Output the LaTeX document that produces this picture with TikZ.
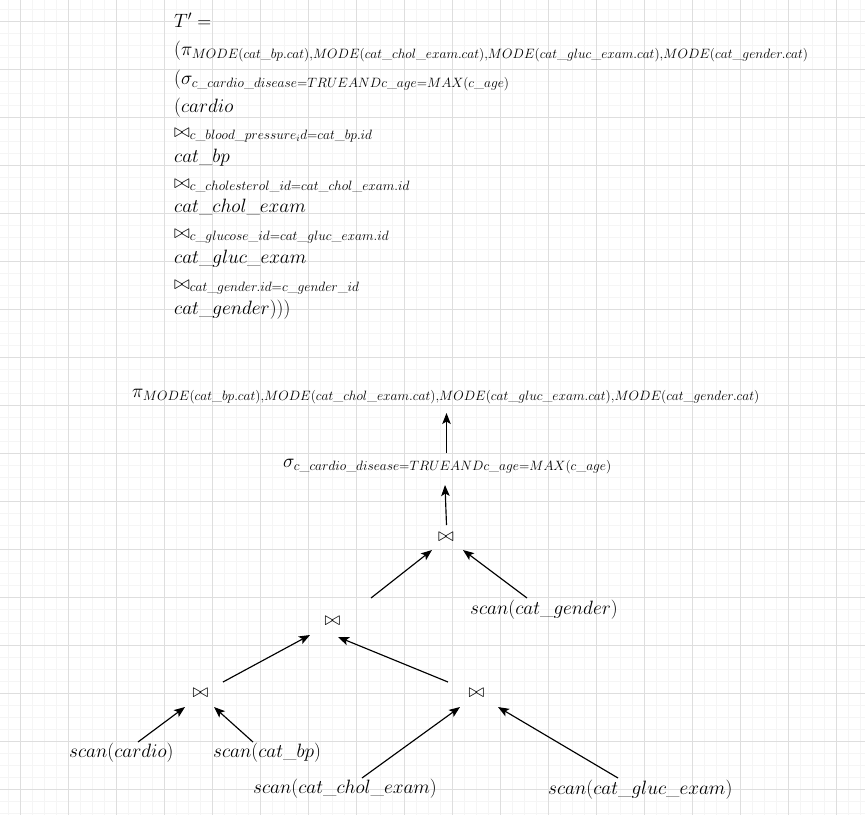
\documentclass[tikz,border=0pt]{standalone}
\usepackage{fix-cm}
\usepackage{amsmath}
\usetikzlibrary{calc,arrows.meta}
% underscore that scales with the math style
\newcommand{\us}{\text{\textunderscore}}
\begin{document}
\begin{tikzpicture}[x=1pt,y=-1pt,
  every node/.style={inner sep=0pt, font=\fontsize{19.3}{23}\selectfont},
  txt/.style={anchor=base west},
  jn/.style={anchor=center},
  arr/.style={draw=black, line width=1.15pt, -{Stealth[length=11pt,width=8.5pt,inset=2.5pt]}},
  minorgrid/.style={draw=black!4, line width=1pt},
  majorgrid/.style={draw=black!13, line width=1pt}]

% canvas and grid
\useasboundingbox (0,0) rectangle (865,815);
\fill[white] (0,0) rectangle (865,815);
\foreach \k in {0,...,71} \draw[minorgrid] ({8.5+12*\k},0) -- ({8.5+12*\k},815);
\foreach \k in {0,...,67} \draw[minorgrid] (0,{9.5+12*\k}) -- (865,{9.5+12*\k});
\foreach \k in {0,...,17} \draw[majorgrid] ({20.5+48*\k},0) -- ({20.5+48*\k},815);
\foreach \k in {0,...,16} \draw[majorgrid] (0,{21.5+48*\k}) -- (865,{21.5+48*\k});

% relational algebra expression
\node[txt] (t0)  at (174,27)  {$T' =$};
\node[txt] (t1)  at (174,55)  {$(\pi_{MODE(cat\us bp.cat),MODE(cat\us chol\us exam.cat),MODE(cat\us gluc\us exam.cat),MODE(cat\us gender.cat)}$};
\node[txt] (t2)  at (174,84)  {$(\sigma_{c\us cardio\us disease=TRUEANDc\us age=MAX(c\us age)}$};
\node[txt] (t3)  at (174,112) {$(cardio$};
\node[txt] (t4)  at (174,137) {$\bowtie_{c\us blood\us pressure_id=cat\us bp.id}$};
\node[txt] (t5)  at (174,162) {$cat\us bp$};
\node[txt] (t6)  at (174,188) {$\bowtie_{c\us cholesterol\us id=cat\us chol\us exam.id}$};
\node[txt] (t7)  at (174,212) {$cat\us chol\us exam$};
\node[txt] (t8)  at (174,238) {$\bowtie_{c\us glucose\us id=cat\us gluc\us exam.id}$};
\node[txt] (t9)  at (174,263) {$cat\us gluc\us exam$};
\node[txt] (t10) at (174,289) {$\bowtie_{cat\us gender.id=c\us gender\us id}$};
\node[txt] (t11) at (174,314) {$cat\us gender)))$};

% query tree
\node[txt] (pi)     at (132,397) {$\pi_{MODE(cat\us bp.cat),MODE(cat\us chol\us exam.cat),MODE(cat\us gluc\us exam.cat),MODE(cat\us gender.cat)}$};
\node[txt] (sigma)  at (283,467) {$\sigma_{c\us cardio\us disease=TRUEANDc\us age=MAX(c\us age)}$};
\node[jn]  (J3)     at (446,537) {$\bowtie$};
\node[jn]  (J2)     at (332.5,620.5) {$\bowtie$};
\node[jn]  (J1)     at (200.5,692.5) {$\bowtie$};
\node[jn]  (J4)     at (476.5,692.5) {$\bowtie$};
\node[txt] (gender) at (470,614) {$scan(cat\us gender)$};
\node[txt] (cardio) at (69,757)  {$scan(cardio)$};
\node[txt] (bp)     at (213,757) {$scan(cat\us bp)$};
\node[txt] (chol)   at (253,793) {$scan(cat\us chol\us exam)$};
\node[txt] (gluc)   at (548,794) {$scan(cat\us gluc\us exam)$};

% edges of the tree
\draw[arr] ($(sigma.base west)+(163.5,-14)$) -- ($(pi.base west)+(314.5,16)$);
\draw[arr] ($(J3)+(0.5,-12)$) -- ($(sigma.base west)+(162,18)$);
\draw[arr] ($(J2)+(38.5,-22.5)$) -- ($(J3)+(-14,13)$);
\draw[arr] ($(gender.base west)+(57,-16)$) -- ($(J3)+(17,13)$);
\draw[arr] ($(J1)+(22.5,-10.5)$) -- ($(J2)+(-22.5,14.5)$);
\draw[arr] ($(J4)+(-28.5,-10.5)$) -- ($(J2)+(5.5,16.5)$);
\draw[arr] ($(cardio.base west)+(69,-15)$) -- ($(J1)+(-15.5,14.5)$);
\draw[arr] ($(bp.base west)+(40,-15)$) -- ($(J1)+(13.5,14.5)$);
\draw[arr] ($(chol.base west)+(109,-15)$) -- ($(J4)+(-16.5,14.5)$);
\draw[arr] ($(gluc.base west)+(70,-16)$) -- ($(J4)+(21.5,14.5)$);
\end{tikzpicture}
\end{document}
